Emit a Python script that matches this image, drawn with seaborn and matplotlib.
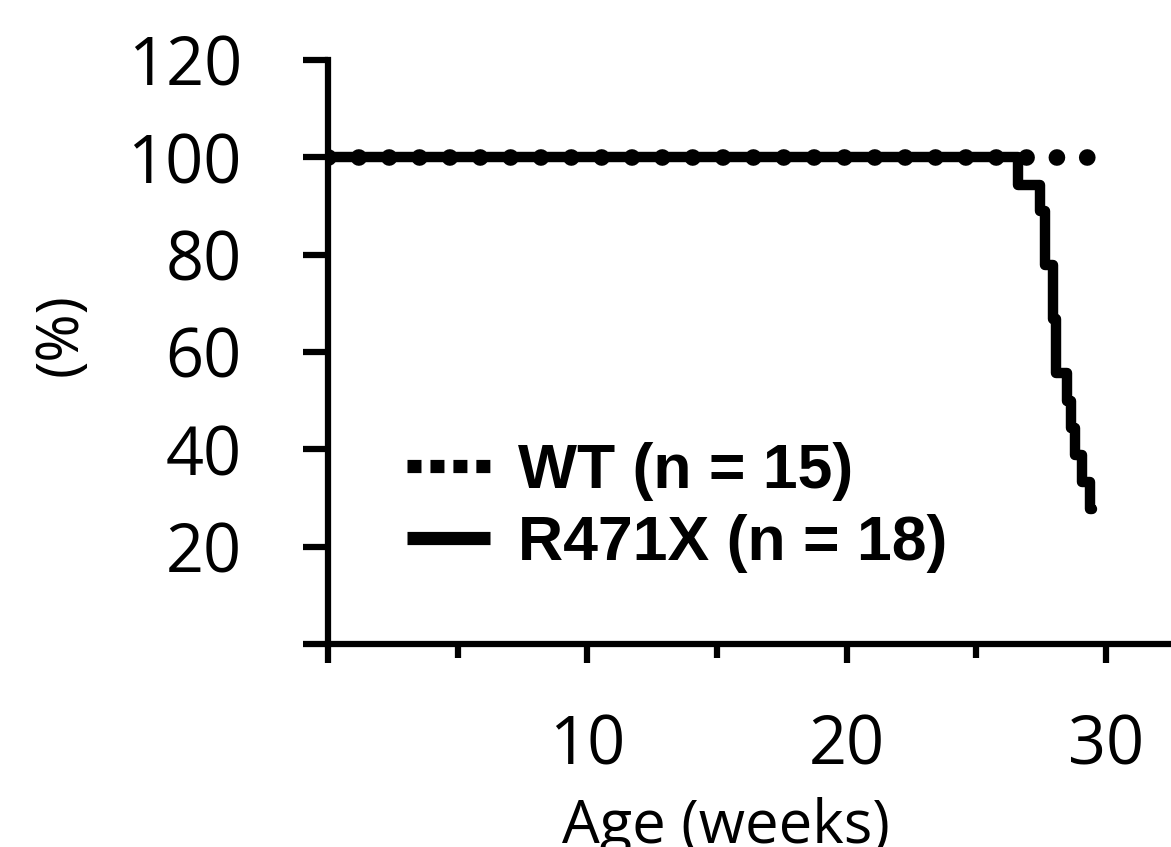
import pandas as pd
import seaborn as sns
import matplotlib.pyplot as plt
from matplotlib.lines import Line2D
from matplotlib.ticker import MultipleLocator

# survival (%) vs age
wt_weeks = [0, 29.3]
wt_surv = [100, 100]

r471x_weeks = [0, 26.6, 27.45, 27.63, 27.95, 28.05, 28.5, 28.65, 28.8, 29.05, 29.37, 29.45]
r471x_surv = [100, 94.4, 88.9, 77.8, 66.7, 55.6, 50.0, 44.4, 38.9, 33.3, 27.8, 27.8]

y_ticks = [0, 20, 40, 60, 80, 100, 120]
y_labels = ["", "20", "40", "60", "80", "100", "120"]
x_ticks = [0, 10, 20, 30]
x_labels = ["", "10", "20", "30"]
legend_labels = ["WT (n = 15)", "R471X (n = 18)"]

sns.set_style("ticks")
plt.rcParams["font.family"] = ["Open Sans", "DejaVu Sans"]
for key in ["text.color", "axes.labelcolor", "xtick.color", "ytick.color", "axes.edgecolor"]:
    plt.rcParams[key] = "black"

fig = plt.figure(figsize=(11.71, 8.47), dpi=100)
ax = fig.add_axes([0.2801, 0.2397, 0.7199, 0.6895])

df_mut = pd.DataFrame({"week": r471x_weeks, "surv": r471x_surv})
df_wt = pd.DataFrame({"week": wt_weeks, "surv": wt_surv})

sns.lineplot(data=df_mut, x="week", y="surv", ax=ax, color="black",
             linewidth=7.5, drawstyle="steps-post", legend=False)
sns.lineplot(data=df_wt, x="week", y="surv", ax=ax, color="black",
             linewidth=12, legend=False)
wt_line = ax.lines[-1]
wt_line.set_dashes((0.001, 1.82))
wt_line.set_dash_capstyle("round")
wt_line.set_zorder(3)

ax.set_xlim(0, 32.5)
ax.set_ylim(0, 120)
ax.set_yticks(y_ticks)
ax.set_yticklabels(y_labels)
ax.set_xticks(x_ticks)
ax.set_xticklabels(x_labels)
ax.xaxis.set_minor_locator(MultipleLocator(5))

sns.despine(ax=ax)
ax.spines["left"].set_linewidth(4.5)
ax.spines["bottom"].set_linewidth(4.5)
ax.tick_params(axis="y", length=18, width=4.5, pad=44, labelsize=48)
ax.tick_params(axis="x", which="major", length=14, width=4.5, pad=36, labelsize=48)
ax.tick_params(axis="x", which="minor", length=10, width=4.5)

ax.set_ylabel("(%)", fontsize=42)
ax.yaxis.label.set_va("center")
ax.yaxis.set_label_coords(-0.3167, 0.529)
ax.set_xlabel("Age (weeks)", fontsize=43)
ax.xaxis.label.set_va("baseline")
ax.xaxis.set_label_coords(0.4724, -0.34)

wt_handle = Line2D([], [], color="black", linewidth=9.5,
                   dashes=(1.06, 0.68), dash_capstyle="butt")
mut_handle = Line2D([], [], color="black", linewidth=9.5, solid_capstyle="butt")
ax.legend([wt_handle, mut_handle], legend_labels, loc="center left",
          bbox_to_anchor=(0.0937, 0.2337), frameon=False, borderpad=0,
          borderaxespad=0, handlelength=1.33, handletextpad=0.44,
          labelspacing=0.2,
          prop={"family": "Liberation Sans", "weight": "bold", "size": 45})

fig.savefig("out.png", dpi=100)
